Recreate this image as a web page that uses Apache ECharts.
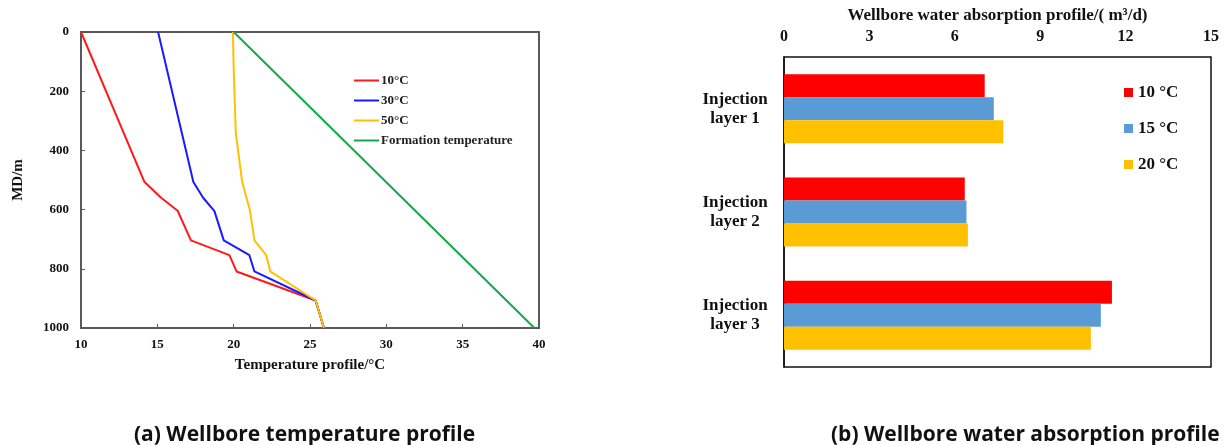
<!DOCTYPE html>
<html>
<head>
<meta charset="utf-8">
<script src="https://cdn.jsdelivr.net/npm/echarts@6/dist/echarts.min.js"></script>
<style>
  html, body { margin: 0; padding: 0; background: #fff; }
  #chart { width: 1224px; height: 445px; }
</style>
</head>
<body>
<div id="chart"></div>
<script>
// (a) temperature profile: depth (m) and temperature (°C) pairs
const depth10 = [0, 507, 560, 604, 704, 754, 809, 907, 1000]
const temp10 = [10, 14.16, 15.25, 16.33, 17.2, 19.72, 20.19, 25.37, 25.91]
const depth30 = [0, 507, 560, 605, 704, 754, 809, 907, 1000]
const temp30 = [15.05, 17.36, 18.0, 18.74, 19.35, 21.03, 21.36, 25.37, 25.91]
const depth50 = [0, 120, 342, 507, 604, 704, 754, 809, 907, 1000]
const temp50 = [19.95, 20.0, 20.14, 20.56, 21.07, 21.36, 22.13, 22.4, 25.37, 25.91]
const depthFormation = [0, 1000]
const tempFormation = [20, 39.7]

// (b) water absorption profile
const layers = ['Injection\nlayer 1', 'Injection\nlayer 2', 'Injection\nlayer 3']
const absorb10 = [7.05, 6.35, 11.52]
const absorb15 = [7.37, 6.41, 11.13]
const absorb20 = [7.70, 6.46, 10.78]

const serif = '"Liberation Serif", "Times New Roman", serif'
const sans = '"Open Sans", "Noto Sans", sans-serif'
const pairs = (t, d) => t.map((v, i) => [v, d[i]])

const chart = echarts.init(document.getElementById('chart'), null, { renderer: 'canvas' })

function lineSeries(name, t, d, color) {
  return {
    name,
    type: 'line',
    xAxisIndex: 0,
    yAxisIndex: 0,
    data: pairs(t, d),
    symbol: 'none',
    lineStyle: { color, width: 2 },
    itemStyle: { color },
  }
}

function barSeries(name, data, color) {
  return {
    name,
    type: 'bar',
    xAxisIndex: 1,
    yAxisIndex: 1,
    data,
    barWidth: 23,
    barGap: '0%',
    itemStyle: { color },
  }
}

chart.setOption({
  backgroundColor: '#fff',
  animation: false,
  title: [
    {
      text: '(a) Wellbore temperature profile',
      left: 129, top: 420,
      textStyle: { fontFamily: sans, fontWeight: 'bold', fontSize: 21, color: '#111' },
    },
    {
      text: '(b) Wellbore water absorption profile',
      left: 826, top: 420,
      textStyle: { fontFamily: sans, fontWeight: 'bold', fontSize: 21, color: '#111' },
    },
  ],
  legend: [
    {
      data: ['10°C', '30°C', '50°C', 'Formation temperature'],
      orient: 'vertical',
      left: 354, top: 74,
      padding: 0,
      itemWidth: 25, itemHeight: 2,
      itemGap: 7,
      icon: 'rect',
      textStyle: { fontFamily: serif, fontWeight: 'bold', fontSize: 13, color: '#222', padding: [0, 0, 0, -3] },
    },
    {
      data: ['10 °C', '15 °C', '20 °C'],
      orient: 'vertical',
      left: 1124, top: 84,
      padding: 0,
      itemWidth: 9, itemHeight: 9,
      itemGap: 19,
      icon: 'rect',
      textStyle: { fontFamily: serif, fontWeight: 'bold', fontSize: 17, color: '#111' },
    },
  ],
  grid: [
    { left: 81, top: 32, width: 458, height: 296, show: true, borderColor: '#595959', borderWidth: 2 },
    { left: 784, top: 57, width: 427, height: 310, show: true, borderColor: '#111', borderWidth: 1.5 },
  ],
  xAxis: [
    {
      gridIndex: 0,
      type: 'value',
      min: 10, max: 40, interval: 5,
      position: 'bottom',
      name: 'Temperature profile/°C',
      nameLocation: 'middle',
      nameGap: 30,
      nameTextStyle: { fontFamily: serif, fontWeight: 'bold', fontSize: 15, color: '#111' },
      axisLine: { onZero: false, lineStyle: { color: '#595959', width: 2 } },
      axisTick: { inside: true, length: 4, lineStyle: { color: '#595959' } },
      axisLabel: { fontFamily: serif, fontWeight: 'bold', fontSize: 13, color: '#111', margin: 10 },
      splitLine: { show: false },
    },
    {
      gridIndex: 1,
      type: 'value',
      min: 0, max: 15, interval: 3,
      position: 'top',
      name: 'Wellbore water absorption profile/( m³/d)',
      nameLocation: 'middle',
      nameGap: 27,
      nameTextStyle: { fontFamily: serif, fontWeight: 'bold', fontSize: 17, color: '#111' },
      axisLine: { onZero: false, lineStyle: { color: '#7f7f7f', width: 2 } },
      axisTick: { length: 4, lineStyle: { color: '#7f7f7f' } },
      axisLabel: { fontFamily: serif, fontWeight: 'bold', fontSize: 16, color: '#111', margin: 12 },
      splitLine: { show: false },
    },
  ],
  yAxis: [
    {
      gridIndex: 0,
      type: 'value',
      inverse: true,
      min: 0, max: 1000, interval: 200,
      name: 'MD/m',
      nameLocation: 'middle',
      nameGap: 55,
      nameTextStyle: { fontFamily: serif, fontWeight: 'bold', fontSize: 15, color: '#111' },
      axisLine: { onZero: false, lineStyle: { color: '#595959', width: 2 } },
      axisTick: { inside: true, length: 4, lineStyle: { color: '#595959' } },
      axisLabel: {
        fontFamily: serif, fontWeight: 'bold', fontSize: 13, color: '#111', margin: 12,
        formatter: (v) => String(v),
      },
      splitLine: { show: false },
    },
    {
      gridIndex: 1,
      type: 'category',
      inverse: true,
      data: layers,
      axisLine: { onZero: false, lineStyle: { color: '#111', width: 1.5 } },
      axisTick: { length: 5, lineStyle: { color: '#999' } },
      axisLabel: { fontFamily: serif, fontWeight: 'bold', fontSize: 17, color: '#111', lineHeight: 19, margin: 49, align: 'center' },
    },
  ],
  series: [
    lineSeries('10°C', temp10, depth10, '#FF1A1A'),
    lineSeries('30°C', temp30, depth30, '#1A1AFF'),
    lineSeries('50°C', temp50, depth50, '#FFC000'),
    lineSeries('Formation temperature', tempFormation, depthFormation, '#12A94A'),
    barSeries('10 °C', absorb10, '#FF0000'),
    barSeries('15 °C', absorb15, '#5B9BD5'),
    barSeries('20 °C', absorb20, '#FFC000'),
  ],
})
</script>
</body>
</html>
